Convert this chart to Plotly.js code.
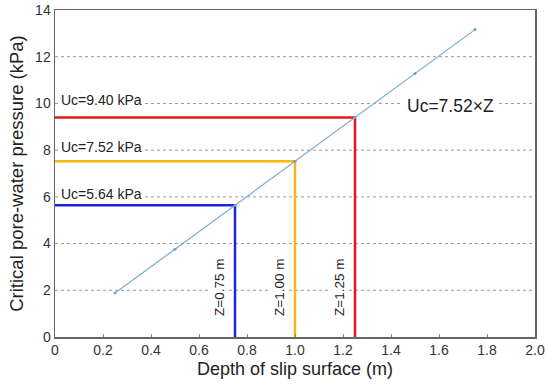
<!DOCTYPE html>
<html>
<head>
<meta charset="utf-8">
<script src="https://cdn.plot.ly/plotly-3.0.1.min.js"></script>
<style>html,body{margin:0;padding:0;background:#fff;}#chart{width:545px;height:388px;}</style>
</head>
<body>
<div id="chart"></div>
<script>
// Data
const depth = [0.25, 0.50, 0.75, 1.00, 1.25, 1.50, 1.75];
const pressure = [1.88, 3.76, 5.64, 7.52, 9.40, 11.28, 13.16];
const zVals = [0.75, 1.00, 1.25];
const ucVals = [5.64, 7.52, 9.40];
const zLabels = ["Z=0.75 m", "Z=1.00 m", "Z=1.25 m"];
const ucLabels = ["Uc=5.64 kPa", "Uc=7.52 kPa", "Uc=9.40 kPa"];
const ucLabelY = [6, 8, 10];
const lineColors = ["#2323d6", "#f5b90f", "#e4181c"];
const xTicks = [0, 0.2, 0.4, 0.6, 0.8, 1.0, 1.2, 1.4, 1.6, 1.8, 2.0];
const xTickText = ["0", "0.2", "0.4", "0.6", "0.8", "1.0", "1.2", "1.4", "1.6", "1.8", "2.0"];
const yTicks = [0, 2, 4, 6, 8, 10, 12, 14];

const FONT = 'Liberation Sans, Arial, sans-serif';
const traces = [];
zVals.forEach((z, i) => {
  traces.push({
    x: [0, z, z], y: [ucVals[i], ucVals[i], 0],
    mode: 'lines', line: {color: lineColors[i], width: 2.5},
    hoverinfo: 'skip', showlegend: false, cliponaxis: false
  });
});
traces.push({
  x: depth, y: pressure, mode: 'lines+markers',
  line: {color: '#7fa9d6', width: 1.2},
  marker: {color: '#6f9fd0', size: 3},
  showlegend: false
});

const gridShapes = [2, 4, 6, 8, 10, 12].map(v => ({
  type: 'line', xref: 'x', yref: 'y', x0: 0, x1: 2, y0: v, y1: v,
  line: {color: '#9a9a9a', width: 1, dash: 'dot'}, layer: 'below'
}));

const annotations = [];
ucLabels.forEach((t, i) => {
  annotations.push({
    x: 0.02, y: ucLabelY[i], xref: 'x', yref: 'y', text: t, showarrow: false,
    xanchor: 'left', yanchor: 'middle', yshift: 3,
    font: {family: FONT, size: 14, color: '#222'},
    bgcolor: '#ffffff', borderpad: 0
  });
});
zLabels.forEach((t, i) => {
  annotations.push({
    x: zVals[i], y: 2.1, xref: 'x', yref: 'y', text: t, showarrow: false,
    textangle: -90, xanchor: 'center', yanchor: 'middle', xshift: -15,
    font: {family: FONT, size: 13.5, color: '#222'},
    bgcolor: '#ffffff', borderpad: 1
  });
});
annotations.push({
  x: 1.646, y: 10, xref: 'x', yref: 'y', text: 'Uc=7.52×Z', showarrow: false,
  xanchor: 'center', yanchor: 'middle', yshift: -3,
  font: {family: FONT, size: 17.5, color: '#222'},
  bgcolor: '#ffffff', borderpad: 4
});

const layout = {
  width: 545, height: 388,
  margin: {l: 55, r: 10, t: 10, b: 51},
  paper_bgcolor: '#ffffff', plot_bgcolor: '#ffffff',
  font: {family: FONT, color: '#222'},
  xaxis: {
    range: [0, 2], tickvals: xTicks, ticktext: xTickText,
    showgrid: false, zeroline: false, showline: true, mirror: true,
    linecolor: '#666', linewidth: 1.5, ticks: 'inside', ticklen: 3, tickcolor: '#888',
    tickfont: {size: 14, color: '#333'}, ticklabeloverflow: 'allow',
    title: {text: 'Depth of slip surface (m)', font: {size: 18, color: '#222'}, standoff: 5}
  },
  yaxis: {
    range: [0, 14], tickvals: yTicks,
    showgrid: false, zeroline: false, showline: true, mirror: true,
    linecolor: '#666', linewidth: 1.5, ticks: '', ticklen: 3,
    tickfont: {size: 14, color: '#333'}, ticklabeloverflow: 'allow',
    title: {text: 'Critical pore-water pressure (kPa)', font: {size: 18.5, color: '#222'}, standoff: 6}
  },
  shapes: gridShapes,
  annotations: annotations
};

Plotly.newPlot('chart', traces, layout, {displayModeBar: false, staticPlot: true});
</script>
</body>
</html>
